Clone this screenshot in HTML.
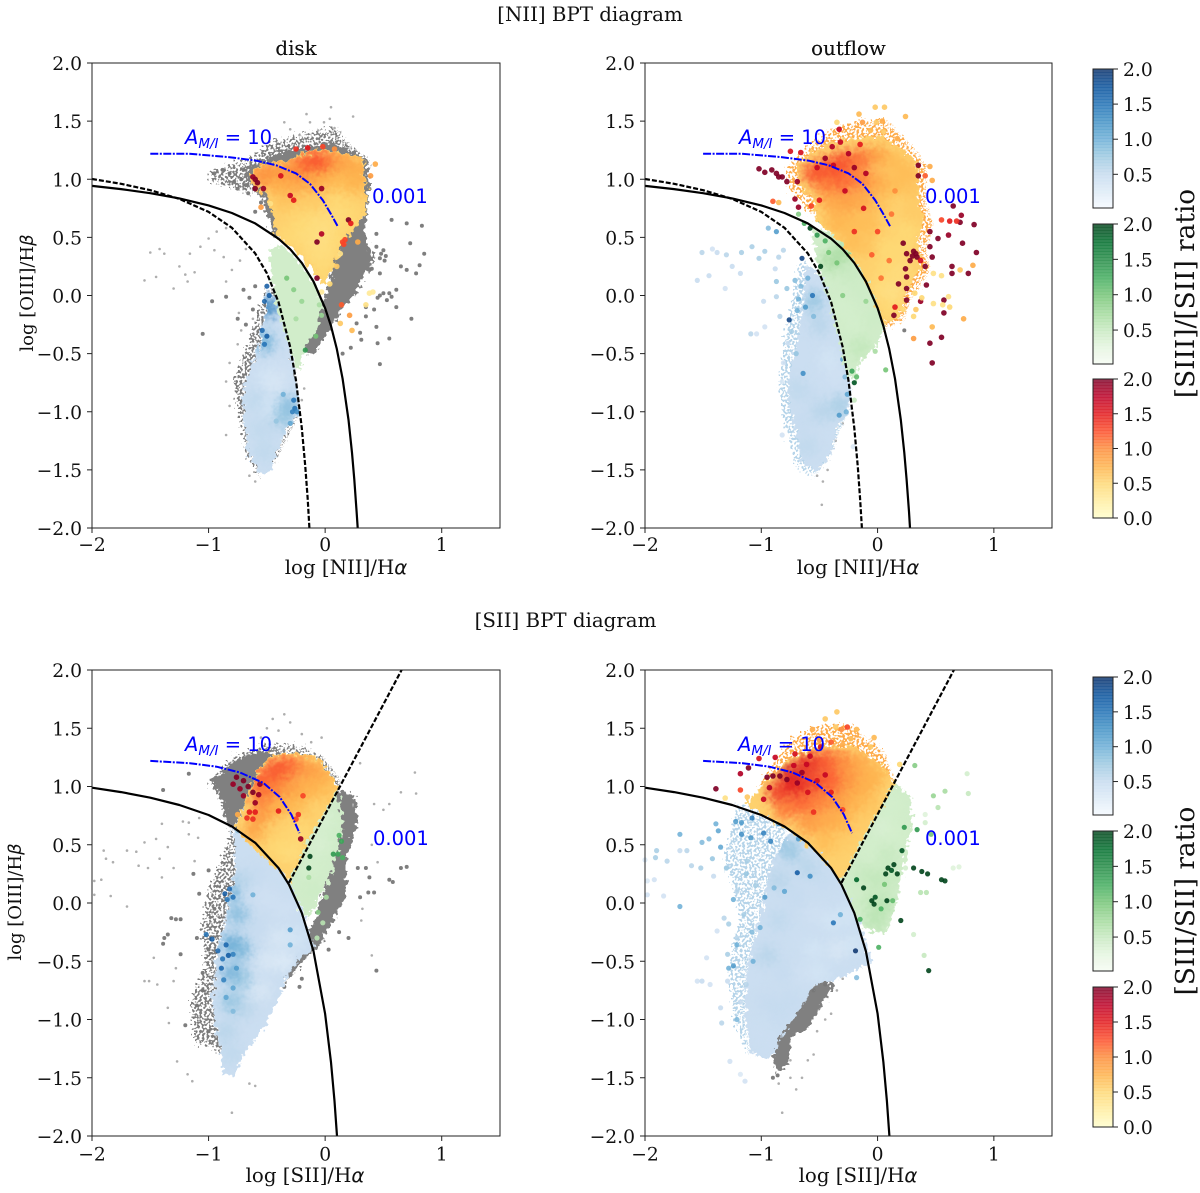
<!DOCTYPE html>
<html><head><meta charset="utf-8"><title>BPT diagrams</title>
<style>
html,body{margin:0;padding:0;background:#fff}
svg{display:block}
text{font-family:"DejaVu Serif","Liberation Serif",serif;fill:#111}
.m{font-family:"DejaVu Sans","Liberation Sans",sans-serif}
</style></head><body>
<svg id="fig" xmlns="http://www.w3.org/2000/svg" width="1200" height="1193" viewBox="0 0 1200 1193">
<defs>
<filter id="rough" filterUnits="userSpaceOnUse" x="0" y="0" width="1200" height="1193" color-interpolation-filters="sRGB">
<feTurbulence type="fractalNoise" baseFrequency="0.22" numOctaves="2" seed="4" result="n"/>
<feDisplacementMap in="SourceGraphic" in2="n" scale="12" xChannelSelector="R" yChannelSelector="G"/>
</filter>
<filter id="speckle" filterUnits="userSpaceOnUse" x="0" y="0" width="1200" height="1193" color-interpolation-filters="sRGB">
<feTurbulence type="fractalNoise" baseFrequency="0.42" numOctaves="1" seed="9" result="n"/>
<feDisplacementMap in="SourceGraphic" in2="n" scale="22" xChannelSelector="R" yChannelSelector="G" result="d"/>
<feColorMatrix in="n" type="matrix" values="0 0 0 0 0  0 0 0 0 0  0 0 0 0 0  14 0 0 0 -6.6" result="m"/>
<feComposite in="d" in2="m" operator="in"/>
</filter>
<filter id="soft" filterUnits="userSpaceOnUse" x="0" y="0" width="1200" height="1193" color-interpolation-filters="sRGB">
<feGaussianBlur stdDeviation="5.5"/>
</filter>
</defs>
</svg>
<script>
const xTicks=[-2,-1,0,1];
const yTicks=[-2,-1.5,-1,-0.5,0,0.5,1,1.5,2];
const barTicksFull=[0,0.5,1,1.5,2];
const barTicksPart=[0.5,1,1.5,2];
const blues=["#f7fbff","#deebf7","#c6dbef","#9ecae1","#6baed6","#4292c6","#2171b5","#08519c","#08306b"];
const greens=["#f7fcf5","#e5f5e0","#c7e9c0","#a1d99b","#74c476","#41ab5d","#238b45","#006d2c","#00441b"];
const ylorrd=["#ffffcc","#ffeda0","#fed976","#feb24c","#fd8d3c","#fc4e2a","#e31a1c","#bd0026","#800026"];

const kewleyCurve=[-2,.943,-1.75,.915,-1.5,.88,-1.25,.835,-1,.775,-.8,.71,-.6,.62,-.4,.489,-.3,.398,-.2,.28,-.1,.12,0,-.108,.05,-.262,.1,-.459,.15,-.716,.2,-1.069,.23,-1.352,.25,-1.583,.27,-1.86,.279,-2];
const kauffmannCurve=[-2,1.002,-1.75,.961,-1.5,.906,-1.25,.831,-1,.719,-.8,.582,-.6,.362,-.5,.191,-.4,-.056,-.3,-.443,-.25,-.733,-.2,-1.14,-.17,-1.473,-.15,-1.75,-.135,-2];
const siiCurve=[-2,.99,-1.75,.952,-1.5,.904,-1.25,.841,-1,.755,-.8,.657,-.6,.517,-.4,.3,-.31,.157,-.2,-.085,-.1,-.414,0,-.95,.05,-1.367,.08,-1.7,.102,-2];
const linerLine=[-.31,.174,.656,2];
const mixNii=[-1.5,1.22,-1.17,1.22,-.82,1.19,-.59,1.16,-.42,1.12,-.25,1.05,-.13,.96,-.02,.82,.05,.7,.11,.59];
const mixSii=[-1.5,1.22,-1.16,1.2,-.93,1.17,-.73,1.12,-.53,1.03,-.39,.91,-.29,.76,-.22,.6];

/* panel A: [NII] disk */
const aGreyHulls=[[.13,.42,.24,.56,.34,.68,.33,.5,.41,.3,.37,.25,.27,.05,.15,-.1,.01,-.33,-.1,-.5,-.22,-.47,-.1,-.27,-.03,-.1,0,-.04,.08,.25],[-.66,1.1,-.42,1.2,-.25,1.24,.04,1.3,.18,1.26,.35,1.16,.37,.93,.35,.7,-.43,.5,-.47,.6,-.53,.85,-.63,.95,-.68,1.02]];
const aPaleGreyHulls=[[-.76,-.73,-.67,-.5,-.59,-.27,-.5,.02,-.41,.05,-.25,-.67,-.22,-1.01,-.42,-1.41,-.56,-1.53,-.65,-1.36,-.73,-.96],[-.96,1.05,-.66,1.15,-.42,1.32,-.05,1.4,.1,1.42,.2,1.3,.38,1.15,.3,1,-.6,.9,-.75,.92,-.96,1]];
const aPaleBlueHulls=[];
const aPaleOrangeHulls=[];
const aBlueHull=[-.49,.05,-.43,-.04,-.33,-.36,-.27,-.67,-.23,-1.01,-.33,-1.13,-.42,-1.33,-.47,-1.5,-.56,-1.53,-.65,-1.36,-.69,-1.07,-.69,-.81,-.62,-.61,-.56,-.41,-.52,-.21];
const aGreenHull=[-.47,.4,-.37,.43,-.27,.33,-.16,.19,-.07,.05,-.03,-.1,-.07,-.27,-.16,-.41,-.23,-.64,-.26,-.56,-.33,-.33,-.42,-.04,-.46,.19];
const aOrangeHull=[-.63,1.05,-.53,1.12,-.3,1.16,-.19,1.22,-.02,1.25,.15,1.22,.31,1.18,.35,.93,.34,.73,.24,.56,.13,.42,.07,.25,-.02,.1,-.07,.19,-.19,.33,-.33,.45,-.42,.53,-.43,.68,-.5,.88,-.62,.95];
const aGreyFaint=[-1.5,.37,-1.42,.4,-1.55,.13,-1.45,.16,-1.3,.06,-1.25,.25,-1.16,.36,-1.07,.42,-1,.49,-.95,.39,-.87,.33,-.93,.55,-.85,.58,-1.2,.18,-1.12,.2,-1.38,.36,-1.18,.12,-.85,.12,-.8,.22,-.73,.3,-.68,.4,-.16,1.56,.05,1.62,.24,1.54,-.35,1.49,-.13,1.49,-.01,1.49,.04,1.52,-.06,1.42,.08,1.44,-.3,1.43,-.22,1.38,-.82,-.58,-.85,-.74,-.82,-.95,-.72,-.3,-.75,-.42,-.62,-.2,-.74,-.15,-.65,-1.55,-.6,-1.6,-.85,-1.2,-.2,-.9,-.18,-.8];
const aGreyDots=[.44,.53,.57,.65,.7,.62,.83,.6,.73,.45,.85,.36,.5,.39,.51,.3,.44,.42,.65,.25,.81,.26,.78,.19,.7,.22,.61,.05,.57,-.01,.47,0,.61,-.1,.35,-.18,.27,-.24,.44,-.27,.55,-.37,.45,-.41,.47,-.59,.31,-.38,.74,-.2,.4,.23,.47,.19,.53,-.04,.5,.02,.55,.02,.45,-.02,.42,-.12,.35,-.1,.3,-.32,.22,-.45,.15,-.5,.48,.36,.47,.32,.52,.34,-.97,-.05,-1.05,-.33,-.85,-.01,-.7,.05,-.65,-.02,-.6,.08,-.62,-.12,-.75,-.2,-.68,-.25,-.95,1.05,-.88,1.08,-.82,1.05,-.78,.98,-.72,1,-.7,1.08,-.75,.92,-.68,.95,-.66,.88,-.55,.8,-.6,.72];
const aBlueWash=[-.5,-.7,.35,-.42,-.75,.3,-.35,-.65,.4,-.6,-.9,.55,-.45,-.95,.35,-.32,-.95,.9,-.55,-1.15,.55,-.45,-1.15,.5,-.35,-1.05,.8,-.52,-1.35,.55,-.52,-.4,1,-.49,-.1,1.4];
const aBlueDots=[-.5,.08,1.7,-.48,0,1.7,-.52,-.05,1.6,-.54,-.3,1.6,-.52,-.42,1.5,-.5,-.35,1.7,-.27,-.9,1.5,-.26,-.97,1.5,-.28,-1,1.4,-.24,-1,1.3,-.3,-1.1,1.1,-.36,-.85,1,-.42,-1.08,.8];
const aGreenWash=[];
const aGreenDots=[-.33,.15,1,-.27,.05,.9,-.2,-.05,.8,-.03,-.17,.8,-.08,-.35,1,-.17,-.47,1.4,-.05,-.08,.7,-.25,-.2,.7];
const aOrangeWash=[-.1,1.15,1.3,0,1.15,1.25,-.2,1.12,1.2,.1,1.15,.95,.2,1.12,.85,.3,1.08,.8,-.3,1.08,1,-.45,1.05,1,-.55,1.03,1,-.4,.95,.8,-.25,.95,.85,-.1,1,.9,0,1,.8,.15,.98,.7,.28,.95,.75,-.35,.8,.65,-.2,.8,.6,-.05,.8,.6,.1,.8,.5,.25,.8,.55,-.35,.65,.55,-.2,.65,.5,-.05,.65,.45,.1,.65,.45,.22,.68,.5,-.3,.5,.5,-.15,.5,.45,0,.5,.4,.12,.5,.5,-.1,.35,.45,.03,.35,.45,-.02,.2,.5];
const aOrangeDots=[-.6,1,2,-.6,.92,2,-.53,.92,1.9,-.62,1.02,1.9,-.58,.97,2,-.38,1.03,1.6,-.03,.92,1.9,-.3,.86,1.7,-.27,.82,1.5,.2,.65,2,.22,.62,1.5,-.03,.53,1.8,-.07,.46,2,.15,.46,1.3,.17,.48,1.3,.16,.44,1.3,-.07,.15,2,-.55,.76,.9,-.47,.79,.4,.14,-.08,1.2,.21,-.17,.9,.23,-.3,.7,.13,-.24,.6,.35,-.08,.4,.41,.03,.3,.38,.02,.3,.43,1.13,.8,.39,1.03,.9,.28,.46,.8,.1,.25,.6,.13,.36,.4,.04,.1,.5,-.03,.03,.3,-.25,1.26,1.4,-.15,1.27,1.5,-.02,1.28,1.3,.08,1.26,1];

/* panel B: [NII] outflow */
const bGreyHulls=[[-.49,-.93,-.35,-1.1,-.41,-1.36,-.52,-1.5,-.59,-1.42,-.54,-1.13]];
const bPaleGreyHulls=[];
const bPaleBlueHulls=[[-.64,.3,-.45,.1,-.3,-.4,-.22,-.85,-.3,-1.1,-.42,-1.4,-.55,-1.55,-.68,-1.45,-.78,-1.1,-.82,-.75,-.78,-.4,-.72,-.1]];
const bPaleOrangeHulls=[[-.75,1.1,-.45,1.38,-.18,1.48,.08,1.5,.25,1.32,.42,1.12,.42,.8,.48,.6,.42,.4,.45,.2,.3,0,.22,-.22,.05,-.28,.3,.6,-.55,.7,-.75,.95]];
const bBlueHull=[-.61,.25,-.49,.16,-.38,-.15,-.29,-.5,-.23,-.84,-.26,-1.01,-.35,-1.1,-.41,-1.36,-.52,-1.5,-.64,-1.42,-.69,-1.19,-.75,-.96,-.76,-.7,-.69,-.41,-.64,-.13];
const bGreenHull=[-.56,.59,-.35,.5,-.18,.3,-.03,.02,.05,-.27,0,-.41,-.15,-.56,-.21,-.73,-.26,-.64,-.35,-.3,-.44,.07,-.52,.3];
const bOrangeHull=[-.69,1.13,-.43,1.3,-.18,1.35,.02,1.37,.19,1.26,.34,1.14,.35,.82,.39,.65,.34,.48,.37,.25,.25,.07,.19,-.16,.05,-.24,-.03,.02,-.18,.3,-.35,.5,-.52,.65,-.55,.85,-.69,.96];
const bGreyFaint=[-.52,-1.55,-.47,-1.6,-.48,-1.8,-.43,-1.5,-.36,-1.25,-.3,-1.1,.24,1.1,.3,1.15,.33,.95,.33,.75,-.4,-.55,-.42,-.4,-.45,-.2];
const bGreyDots=[-.3,-1.05,-.45,-1,-.4,-.95,.23,-.3];
const bBlueWash=[-.5,-.75,.45,-.42,-.55,.35,-.35,-.7,.4,-.6,-.85,.5,-.5,-.25,.6,-.55,-.05,.8,-.65,-1.1,.5,-.6,-1.3,.55,-.48,-1.0,.6,-.32,-.95,.7,-.7,-.8,.55];
const bBlueDots=[-1.51,.37,.6,-1.42,.4,.4,-1.55,.13,.5,-1.45,.17,.5,-1.31,.06,.4,-1.38,.37,.5,-1.3,.35,.6,-1.25,.25,.5,-1.17,.37,.7,-1.18,.19,.5,-1.08,.42,.7,-1.02,.32,.7,-.94,.58,.9,-.87,.55,1.2,-.97,.38,.7,-.85,.33,.6,-.81,.39,.6,-.88,.23,.5,-.87,.12,.8,-.98,-.05,.5,-.87,-.01,.6,-1.04,-.33,.4,-1.09,-.33,.6,-.97,-.27,.4,-.76,-.21,1.9,-.84,-.18,.6,-.71,.13,.9,-.65,.32,1.9,-.56,0,1.5,-.78,.06,.8,-.69,-.13,1,-.62,-.1,1.2,-.74,-.31,.7,-.77,-.41,.5,-.64,-.67,1.3,-.81,-.58,.4,-.82,-.74,.3,-.82,-1.2,.4,-.21,-1.3,.3,-.6,.15,1,-.66,.08,.9,-.68,-.03,1,-.55,-.18,.9,-.7,-.5,.8,-.3,-.55,1.1,-.26,-.85,1.1,-.27,-1,1,-.33,-1.03,1.2,-.28,-.7,.9];
const bGreenWash=[-.25,.2,.5,-.15,.05,.45,-.3,-.1,.4,-.2,-.25,.4,-.05,-.2,.45,-.15,-.45,.55,-.4,.3,.7,-.28,.38,.7];
const bGreenDots=[-.58,.58,2,-.63,.62,1.2,-.5,.65,1.5,-.52,.52,1.4,-.45,.47,1.2,-.68,.7,.9,-.42,.37,1,-.49,.25,2,-.35,.28,1,-.25,.35,.9,-.1,-.05,.8,-.3,0,.9,-.22,-.65,1.3,-.18,-.7,1.1,-.2,-.75,1.9,.07,-.64,1,-.02,-.48,.7,-.2,-.9,.5];
const bOrangeWash=[-.55,1.05,1.3,-.42,1.1,1.3,-.3,1.15,1.3,-.15,1.18,1.15,0,1.2,.9,.15,1.15,.7,.28,1.05,.7,-.45,.95,1.1,-.3,.98,1.2,-.15,1.0,1.1,0,.98,.85,.15,.95,.7,.28,.9,.65,-.4,.8,.85,-.25,.8,.9,-.1,.82,.85,.05,.8,.65,.2,.78,.55,.3,.7,.6,-.35,.62,.75,-.2,.62,.7,-.05,.62,.7,.1,.62,.55,.25,.55,.5,-.22,.45,.7,-.08,.42,.65,.07,.4,.5,.22,.38,.5,-.05,.25,.55,.08,.22,.5,.2,.2,.45,.02,.05,.45,.14,.02,.4,.1,-.12,.5];
const bOrangeDots=[-1.02,1.09,2,-.97,1.06,2,-.91,1.08,2,-.87,1.05,2,-.82,1.02,2,-.78,.98,2,-.69,.98,1.9,-.85,1.02,2,-.75,1.24,1.6,-.66,1.23,1.6,-.39,1.28,1.8,-.32,1.32,1.7,-.71,.83,1.9,-.68,.76,1.9,.45,.55,2,.52,.49,2,.61,.52,1.9,.72,.69,1.9,.71,.63,2,.83,.61,2,.73,.45,2,.85,.37,2,.78,.19,2,.64,.19,2,.64,.25,2,.45,.42,2,.47,.33,2,.31,.38,2,.25,.36,2,.22,.45,2,.28,.3,2,.34,.33,2,.41,.25,2,.24,.23,2,.42,.09,2,.25,.06,2,.37,-.05,1.9,.14,-.17,2,.25,-.04,2,.57,-.15,2,.57,-.04,2,.55,-.36,2,.45,-.41,2,.47,-.58,2,.25,.16,2,.33,.36,2,.3,.34,2,.37,.3,1.6,.48,-.07,.4,.56,-.08,.4,.62,-.1,.5,.61,-.01,.4,.31,-.18,.5,.47,-.27,.7,.74,-.2,.8,.31,-.37,.9,.48,.19,.4,.55,.17,.4,.71,.22,.6,.82,.26,.8,-.16,1.56,.7,-.02,1.62,.6,.06,1.62,.6,.24,1.54,.7,-.35,1.49,.5,-.13,1.49,.9,-.01,1.49,.6,.04,1.5,.8,-.06,1.42,.7,.05,1.41,.6,.17,1.35,.8,-.33,1.43,1.7,.45,1.11,.8,.35,1.12,2,.35,1.03,2,.41,1.03,1.2,.47,.99,.8,.65,.77,2,.55,.65,1.3,.62,.64,1.5,.68,.64,1.4,-.9,.81,1.2,-.85,.8,.7,-.5,.82,1.5,-.57,.77,1.3,-.2,1.1,1.9,-.1,1.05,1.8,-.28,.9,1.7,-.12,.75,1.6,-.2,.55,1.4,0,.55,1.3,.12,.7,1.1,-.05,.35,1.2,.1,.3,1.1,.03,.15,1.1,.15,.9,1,-.45,1.18,1.9,-.38,1.12,1.7,-.25,1.22,1.8,-.15,1.3,1.5,-.52,1.1,1.7,.18,.1,2,.15,-.1,1.5,.32,.02,.5,.38,-.02,.5,.33,-.12,.6,.22,-.12,.5];

/* panel C: [SII] disk */
const cGreyHulls=[[.1,.96,.24,.93,.27,.68,.18,.42,.18,.08,.04,-.18,-.07,-.38,-.24,-.55,-.33,-.67,-.3,-.35,-.1,-.2,.03,.2,.1,.5],[-.79,.65,-.6,1.1,-.47,1.27,-.55,1.3,-.76,1.22,-.96,1.05,-.87,.88,-.82,.65]];
const cPaleGreyHulls=[[-.96,1.05,-.76,1.25,-.47,1.35,-.24,1.34,-.02,1.25,.13,1.05,.1,.9,-.76,.6],[-.76,.65,-.85,.42,-.96,.16,-1.04,-.21,-1,-.56,-1.13,-.84,-1.1,-1.18,-.93,-1.24,-.79,-1.4,-.6,-.9,-.6,.2]];
const cPaleBlueHulls=[];
const cPaleOrangeHulls=[];
const cBlueHull=[-.79,.62,-.67,.53,-.47,.36,-.3,.16,-.16,-.21,-.1,-.36,-.19,-.44,-.33,-.61,-.39,-.78,-.53,-1.07,-.67,-1.24,-.79,-1.47,-.87,-1.47,-.9,-1.22,-.96,-.84,-.93,-.5,-.82,.02,-.76,.3];
const cGreenHull=[.1,.96,.14,.73,.11,.48,.04,.25,-.07,.02,-.16,-.13,-.3,.19,-.19,.48,-.05,.73];
const cOrangeHull=[-.76,.65,-.59,1.11,-.47,1.26,-.25,1.28,-.07,1.24,.04,1.11,.1,.98,-.05,.73,-.19,.48,-.3,.2,-.47,.36,-.67,.53];
const cGreyFaint=[-1.9,.45,-1.88,.38,-1.82,.35,-1.7,.45,-1.62,.44,-1.6,.32,-1.55,.52,-1.45,.55,-1.4,.68,-1.35,.48,-1.42,.38,-1.52,.3,-1.4,.22,-1.3,.3,-1.22,.7,-1.17,.69,-1.08,.73,-1.17,.59,-1.09,.56,-1.12,.36,-1.98,.19,-1.92,.2,-1.84,.06,-1.98,.07,-1.7,-.03,-1.55,-.67,-1.51,-.67,-1.44,-.7,-1.47,-.47,-1.35,-.9,-1.34,-1.03,-1.27,-1.36,-1.18,-1.47,-1.14,-1.53,-1.3,-.67,-1.28,-.56,-.45,1.58,-.35,1.62,-.3,1.55,-.2,1.45,-.5,1.5,-.4,1.48,-.55,1.42,-.12,1.38,-.03,1.42,.3,1.2,.42,.85,.5,.8,.55,.85,.65,.95,.77,1.12,.78,.94,.4,.5,.45,.35,-.65,-1.55,-.6,-1.57,-.8,-1.8,.4,-.45,.31,-.15,.32,-.05];
const cGreyDots=[-1.17,1.11,-1.39,.97,-1.32,-.13,-1.28,-.14,-1.24,-.14,-1.35,-.27,-1.38,-.3,-1.39,-.35,-1.24,-.44,-1.1,-.3,-1.05,-.6,-1.0,-.4,-.95,-.05,-1.13,.25,-1.08,.08,-1,.28,.28,.3,.35,.3,.38,.22,.55,.2,.58,.18,.65,.3,.7,.31,.37,.09,.42,.09,.3,.05,.2,-.3,.12,-.25,.03,-.4,-.2,-.65,-.22,-.72,.44,-.58,-1.05,-.75,-.95,-.95,-1.2,-1.05,-1,-1.1,-1.1,-.88,-.35,-.72];
const cBlueWash=[-.82,.1,1,-.72,.2,.6,-.75,-.1,.9,-.8,-.35,1.1,-.72,-.4,.95,-.8,-.6,1.05,-.72,-.65,.8,-.8,-.85,.85,-.7,-.9,.6,-.85,-1.1,.6,-.8,-1.3,.55,-.6,.25,.5,-.5,.05,.4,-.35,-.05,.4,-.6,-.2,.5,-.4,-.3,.3,-.25,-.3,.35,-.5,-.5,.3,-.35,-.5,.25,-.55,-.75,.3];
const cBlueDots=[-.82,.12,1.6,-.79,.05,1.5,-1.02,-.27,1.5,-.97,-.31,1.7,-.92,-.41,1.6,-.85,-.36,1.6,-.89,-.56,1.6,-.79,-.44,1.4,-.87,-.66,1.4,-.76,-.56,1.2,-.79,-.73,1.1,-.85,-.81,1.1,-.79,-.93,.9,-.62,.07,1,-.3,-.23,1.2,-.3,-.36,1,-.86,.08,1.7,-.83,-.45,1.7,-.88,-.48,1.5,-.84,.03,1.5,-.75,.62,.8];
const cGreenWash=[-.02,.72,.35,-.05,.5,.35,-.12,.3,.4,-.1,.1,.45];
const cGreenDots=[-.13,.4,2,-.14,.3,2,.14,.53,1.3,.11,.42,1.3,.15,.39,1.2,.07,.42,1.4,-.06,-.08,.9,.01,.05,.7,-.02,-.17,.6,-.07,-.3,.6,.12,.58,1.2,-.14,.22,.7];
const cOrangeWash=[-.55,1.05,1.25,-.42,1.15,1.3,-.3,1.18,1.2,-.15,1.15,.95,-.02,1.1,.85,-.55,.9,1.1,-.42,1,1.1,-.3,1,.95,-.15,.98,.8,0,.98,.7,-.55,.72,1,-.42,.82,.8,-.28,.85,.75,-.15,.82,.65,-.05,.8,.55,-.6,.62,.9,-.48,.62,.6,-.35,.65,.55,-.2,.6,.5,-.4,.48,.5,-.27,.42,.45];
const cOrangeDots=[-.79,1.02,1.9,-.7,1.05,2,-.73,.98,1.9,-.62,.95,2,-.56,1.02,1.9,-.6,.86,1.9,-.7,.92,1.9,-.65,.78,1.5,-.67,.73,1.4,-.75,.76,.8,-.19,.92,1.3,-.23,.76,1.4,-.4,.79,1.5,-.21,.55,1.9,-.76,1.08,2,-.66,1,2,-.57,.93,1.9,-.62,.72,1.4,-.6,.78,1.5,-.25,.72,1.3];

/* panel D: [SII] outflow */
const dGreyHulls=[[-.44,-.64,-.55,-.73,-.69,-.96,-.84,-1.12,-.89,-1.27,-.87,-1.44,-.78,-1.38,-.75,-1.15,-.61,-1.07,-.49,-.87,-.39,-.73]];
const dPaleGreyHulls=[];
const dPaleBlueHulls=[[-1.18,.82,-.75,.7,-.9,.3,-1,-.1,-1.12,-.6,-1.13,-1,-1.1,-1.27,-1.22,-1,-1.25,-.5,-1.15,-.1,-1.3,.4]];
const dPaleOrangeHulls=[[-1,1,-.75,1.38,-.45,1.52,-.2,1.5,.05,1.3,.15,1.05,-.5,.9]];
const dBlueHull=[-.75,.62,-.49,.42,-.29,.19,-.15,-.21,-.06,-.5,-.32,-.64,-.55,-.7,-.66,-.9,-.83,-1.12,-.89,-1.27,-.95,-1.33,-1.09,-1.27,-1.13,-.99,-1.12,-.56,-1.0,-.13,-.92,.3];
const dGreenHull=[.15,1.02,.28,.9,.28,.62,.22,.36,.17,.07,.08,-.24,-.06,-.24,-.15,-.16,-.31,.19,-.18,.48,-.03,.73];
const dOrangeHull=[-1.12,.85,-.95,1.05,-.75,1.25,-.49,1.34,-.21,1.34,.02,1.19,.14,1.03,-.03,.73,-.18,.48,-.31,.2,-.49,.42,-.75,.62,-.92,.73];
const dGreyFaint=[-.75,-1.5,-.7,-1.6,-.85,-1.55,-.65,-1.5,-.6,-1.35,-.55,-1.3,-.52,-1.1,-.45,-1,-.4,-.95,-.35,-.75,-.3,-.65,-.82,-1.8,-.75,-1.35];
const dGreyDots=[-.3,-.05,-.33,-.15,-.45,-.7,-.55,-.75,-.9,-1.5,-.86,-1.48];
const dBlueWash=[-.9,.55,1,-.75,.45,.8,-.6,.3,.6,-.45,.2,.5,-.85,.2,.6,-.7,.05,.5,-.55,-.1,.4,-.4,-.15,.35,-.25,-.1,.35,-.85,-.15,.55,-.7,-.3,.45,-.55,-.4,.35,-.35,-.4,.3,-.2,-.35,.35,-.95,-.45,.6,-.8,-.6,.5,-.65,-.6,.4,-.5,-.6,.35,-.95,-.85,.5,-.85,-.95,.5,-.75,-.85,.5,-1.02,-1.1,.45,-.92,-1.22,.45];
const dBlueDots=[-1.7,.59,1,-1.7,-.03,1,-1.9,.45,.7,-1.91,.39,.7,-1.81,.36,.6,-2,.37,.3,-1.98,.19,.3,-1.92,.2,.4,-1.84,.06,.4,-1.98,.07,.4,-1.7,.45,.5,-1.64,.45,.6,-1.6,.32,.6,-1.51,.52,.9,-1.45,.55,.9,-1.39,.68,1,-1.37,.62,1.1,-1.35,.48,1.1,-1.42,.38,.8,-1.52,.3,.7,-1.41,.23,.5,-1.3,.3,.8,-1.22,.7,1.2,-1.17,.69,1.2,-1.08,.73,1.4,-.98,.6,1.4,-.92,.53,1.4,-1.17,.59,1.3,-1.09,.56,1.2,-1.12,.36,.7,-1.21,.1,.6,-1.24,.03,1,-1.32,-.13,.6,-1.28,-.18,.7,-1.38,-.24,.4,-1.21,-.3,.6,-1.21,-.36,1,-1.29,-.44,.7,-1.28,-.56,1,-1.24,-.54,1.2,-1.47,-.47,.4,-1.55,-.67,.4,-1.51,-.67,.5,-1.44,-.7,.4,-1.29,-.67,.5,-1.35,-.9,.5,-1.21,-1,.9,-1.34,-1.03,.6,-1.27,-1.36,.4,-1.18,-1.47,.3,-1.14,-1.53,.4,-1.07,-.5,1,-1.01,-.21,1,-.89,.13,.9,-.38,-.17,1.5,-.19,-.41,2,-.18,-.64,.9,-.69,.26,1.7,-.58,.23,1.3,-.32,-.1,1,-1.13,.25,.8,-1.05,.15,.7,-1.15,-.1,.7,-1.08,-.25,.9,-1.13,-.7,.6,-1.18,-.85,.5,-.75,.72,1.4,-.85,.68,1.3,-.68,.55,1.2,-.8,.1,1.1,-.97,.05,1.2];
const dGreenWash=[.12,.85,.4,.05,.65,.35,.15,.6,.4,-.05,.45,.4,.08,.4,.5,-.12,.25,.5,0,.2,.55,.12,.2,.5,-.05,0,.55,.06,-.02,.6,-.02,-.15,.6];
const dGreenDots=[.09,.3,2,.14,.33,2,.07,.25,2,.17,.25,2,.21,.45,1.9,.31,.3,2,.38,.27,2,.43,.25,2,.55,.2,2,.58,.19,2,-.03,-.01,2,-.05,.02,2,.08,.02,2,-.12,.13,2,-.18,.2,1.8,.2,-.15,2,.44,-.58,2,.23,.65,1.4,.34,.63,1.4,.46,.59,1,.01,-.38,1.2,-.15,-.14,1.2,.32,1.18,.9,.48,.92,.8,.58,.96,.7,.77,1.11,.4,.78,.94,.5,.52,.82,.6,.41,.69,.4,.41,.76,.3,.4,-.45,.5,.65,.3,.3,.7,.31,.3,.37,.09,.6,.42,.09,.6,.31,-.27,.4,.24,.3,.4,.12,.28,1.9,-.02,.05,1.9,.03,-.05,1.2,.06,.16,1,.13,.02,1.1];
const dOrangeWash=[-.75,1.1,1.6,-.6,1.2,1.5,-.45,1.22,1.3,-.3,1.22,1.05,-.15,1.2,.85,-.02,1.1,.75,-.85,.95,1.4,-.7,1,1.5,-.55,1.03,1.4,-.4,1.05,1.25,-.25,1.05,1,-.1,1,.8,-.8,.8,1.1,-.65,.85,1.2,-.5,.87,1.1,-.35,.88,1,-.2,.87,.8,-.05,.85,.65,-.6,.68,.95,-.45,.7,.85,-.3,.7,.8,-.15,.7,.6,-.45,.52,.7,-.3,.5,.6,-.22,.38,.55];
const dOrangeDots=[-1.39,.98,2,-1.18,1.11,1.8,-1.11,1.16,2,-1.02,1.24,1.6,-.88,1.25,1.7,-.95,1.08,2,-.9,1.09,2,-.84,1.09,2,-.78,1.06,2,-.69,1.03,1.9,-.93,.99,1.8,-.98,.89,1.7,-.71,1.28,1.6,-.58,1.26,1.7,-.49,1.34,1.6,-.61,1.19,1.7,-.52,1.05,1.6,-.35,1.64,.6,-.45,1.58,.6,-.26,1.51,1.3,-.31,1.49,1,-.36,1.51,.6,-.18,1.49,.7,-.56,1.49,.8,-.03,1.42,.7,-.23,1.41,.7,-.06,1.34,.6,-1.31,.9,.4,-1.12,.91,.6,-1.18,.97,1.3,.19,1.19,.5,-.65,1.12,1.9,-.72,1.18,1.7,-.45,1.1,1.7,-.6,.95,1.6,-.4,.95,1.5,-.55,.78,1.4,-.3,.8,1.3,-.5,1.4,.9,-.4,1.38,1.2,-.3,1.36,.8];

const panels=[
 {id:'nii-disk',left:92,top:63,w:408,h:465,grey:aGreyHulls,pale:aPaleGreyHulls,paleBlue:aPaleBlueHulls,paleOrange:aPaleOrangeHulls,blue:aBlueHull,green:aGreenHull,orange:aOrangeHull,faint:aGreyFaint,dots:aGreyDots,bw:aBlueWash,bd:aBlueDots,gw:aGreenWash,gd:aGreenDots,ow:aOrangeWash,od:aOrangeDots,curves:[[kewleyCurve,0],[kauffmannCurve,1]],mix:mixNii,title:'disk',xl:'[NII]',xlc:346,ylx:33,lx:185,ly:144,nx:372,ny:203},
 {id:'nii-outflow',left:645,top:63,w:407,h:465,grey:bGreyHulls,pale:bPaleGreyHulls,paleBlue:bPaleBlueHulls,paleOrange:bPaleOrangeHulls,blue:bBlueHull,green:bGreenHull,orange:bOrangeHull,faint:bGreyFaint,dots:bGreyDots,bw:bBlueWash,bd:bBlueDots,gw:bGreenWash,gd:bGreenDots,ow:bOrangeWash,od:bOrangeDots,curves:[[kewleyCurve,0],[kauffmannCurve,1]],mix:mixNii,title:'outflow',xl:'[NII]',xlc:858,ylx:0,lx:739,ly:144,nx:925,ny:203},
 {id:'sii-disk',left:92,top:670,w:408,h:466,grey:cGreyHulls,pale:cPaleGreyHulls,paleBlue:cPaleBlueHulls,paleOrange:cPaleOrangeHulls,blue:cBlueHull,green:cGreenHull,orange:cOrangeHull,faint:cGreyFaint,dots:cGreyDots,bw:cBlueWash,bd:cBlueDots,gw:cGreenWash,gd:cGreenDots,ow:cOrangeWash,od:cOrangeDots,curves:[[siiCurve,0],[linerLine,1]],mix:mixSii,title:'disk',xl:'[SII]',xlc:305,ylx:21,lx:185,ly:751,nx:373,ny:845},
 {id:'sii-outflow',left:645,top:670,w:407,h:466,grey:dGreyHulls,pale:dPaleGreyHulls,paleBlue:dPaleBlueHulls,paleOrange:dPaleOrangeHulls,blue:dBlueHull,green:dGreenHull,orange:dOrangeHull,faint:dGreyFaint,dots:dGreyDots,bw:dBlueWash,bd:dBlueDots,gw:dGreenWash,gd:dGreenDots,ow:dOrangeWash,od:dOrangeDots,curves:[[siiCurve,0],[linerLine,1]],mix:mixSii,title:'outflow',xl:'[SII]',xlc:858,ylx:0,lx:738,ly:751,nx:925,ny:845}
];
const colorbars=[
 {top:69,h:139,stops:blues,lo:0.02,ticks:barTicksPart,name:'blue-colorbar-top'},
 {top:224,h:140,stops:greens,lo:0.02,ticks:barTicksPart,name:'green-colorbar-top'},
 {top:379,h:139,stops:ylorrd,lo:0,ticks:barTicksFull,name:'red-colorbar-top'},
 {top:677,h:138,stops:blues,lo:0.02,ticks:barTicksPart,name:'blue-colorbar-bottom'},
 {top:831,h:140,stops:greens,lo:0.02,ticks:barTicksPart,name:'green-colorbar-bottom'},
 {top:987,h:140,stops:ylorrd,lo:0,ticks:barTicksFull,name:'red-colorbar-bottom'}
];

const NS='http://www.w3.org/2000/svg';
const fig=document.getElementById('fig');
function make(tag,attrs,parent,txt){
  const el=document.createElementNS(NS,tag);
  for(const k in attrs)el.setAttribute(k,attrs[k]);
  if(txt!==undefined)el.textContent=txt;
  (parent||fig).appendChild(el);
  return el;
}
function label(txt,x,y,size,name,extra){
  const el=make('text',Object.assign({x:x,y:y,'font-size':size},extra||{}),fig,txt);
  
  
  return el;
}
function cmap(stops,v){
  const t=Math.max(0,Math.min(1,v/2))*(stops.length-1);
  const i=Math.min(stops.length-2,Math.floor(t)),f=t-i;
  const a=stops[i],b=stops[i+1];
  let out='rgb(';
  for(let c=0;c<3;c++){
    const p=parseInt(a.substr(1+c*2,2),16),q=parseInt(b.substr(1+c*2,2),16);
    out+=Math.round(p+(q-p)*f)+(c<2?',':')');
  }
  return out;
}
function fmt(n){return (n<0?'\u2212':'')+Math.abs(n);}
function fmt1(n){return (n<0?'\u2212':'')+Math.abs(n).toFixed(1);}
const defs=fig.querySelector('defs');
let clipCount=0;

panels.forEach(function(p){
  const g=make('g',{});
  
  
  const sx=function(x){return p.left+(x+2)/3.5*p.w;};
  const sy=function(y){return p.top+(2-y)/4*p.h;};
  function pts(arr){
    let s='';
    for(let i=0;i<arr.length;i+=2)s+=sx(arr[i]).toFixed(1)+','+sy(arr[i+1]).toFixed(1)+' ';
    return s;
  }
  function poly(arr,fill,name,parent,filter){
    const at={points:pts(arr),fill:fill,stroke:fill,'stroke-width':2,'stroke-linejoin':'round'};
    if(filter)at.filter='url(#'+filter+')';
    const el=make('polygon',at,parent);
    
    
  }
  function xy(arr,r,fill,op,name){
    for(let i=0;i<arr.length;i+=2){
      const el=make('circle',{cx:sx(arr[i]).toFixed(1),cy:sy(arr[i+1]).toFixed(1),r:r,fill:fill,opacity:op},g);
      
      
    }
  }
  function xyv(arr,r,stops,op,name,parent){
    for(let i=0;i<arr.length;i+=3){
      const el=make('circle',{cx:sx(arr[i]).toFixed(1),cy:sy(arr[i+1]).toFixed(1),r:r,fill:cmap(stops,arr[i+2]),opacity:op},parent||g);
      
      
    }
  }
  function population(hull,base,wash,stops,wr,name){
    const outer=make('g',{filter:'url(#rough)'},g);
    
    
    poly(hull,base,name+'-envelope',outer);
    clipCount++;
    const cid='clip'+clipCount;
    const cp=make('clipPath',{id:cid},defs);
    make('polygon',{points:pts(hull)},cp);
    const clipG=make('g',{'clip-path':'url(#'+cid+')'},outer);
    const blur=make('g',{filter:'url(#soft)'},clipG);
    xyv(wash,wr,stops,.85,name+'-density',blur);
  }
  p.pale.forEach(function(h){poly(h,'#7d7d7d','grey-sparse-envelope',g,'speckle');});
  p.grey.forEach(function(h){poly(h,'#808080','grey-density-envelope',g,'rough');});
  xy(p.faint,1.3,'#9a9a9a',.8,'grey-faint-point');
  xy(p.dots,2,'#777',.95,'grey-point');
  p.paleBlue.forEach(function(h){poly(h,cmap(blues,.6),'star-forming-sparse-envelope',g,'speckle');});
  p.paleOrange.forEach(function(h){poly(h,cmap(ylorrd,.8),'agn-sparse-envelope',g,'speckle');});
  population(p.blue,cmap(blues,.45),p.bw,blues,10,'star-forming');
  xyv(p.bd,2.6,blues,.85,'star-forming-point');
  population(p.green,cmap(greens,.42),p.gw,greens,10,'composite');
  xyv(p.gd,2.6,greens,.9,'composite-point');
  population(p.orange,cmap(ylorrd,.55),p.ow,ylorrd,11,'agn');
  xyv(p.od,2.8,ylorrd,.92,'agn-point');
  p.curves.forEach(function(c){
    let d='';
    for(let i=0;i<c[0].length;i+=2)d+=(i?'L':'M')+sx(c[0][i]).toFixed(1)+' '+sy(c[0][i+1]).toFixed(1);
    const el=make('path',{d:d,fill:'none',stroke:'#000','stroke-width':2.2,'stroke-dasharray':c[1]?'5 2':'none','stroke-linejoin':'round'},g);
    
    
  });
  let md='';
  for(let i=0;i<p.mix.length;i+=2)md+=(i?'L':'M')+sx(p.mix[i]).toFixed(1)+' '+sy(p.mix[i+1]).toFixed(1);
  const mixEl=make('path',{d:md,fill:'none',stroke:'#0000ff','stroke-width':2,'stroke-dasharray':'8 1.5 2 1.5'},g);
  
  
  const frame=make('rect',{x:p.left,y:p.top,width:p.w,height:p.h,fill:'none',stroke:'#222','stroke-width':1},g);
  
  
  const xBase=p.top<100?551:1160.5;
  xTicks.forEach(function(t){
    const tick=make('line',{x1:sx(t),x2:sx(t),y1:p.top+p.h,y2:p.top+p.h+5,stroke:'#222','stroke-width':1},g);
    
    
    label(fmt(t),sx(t),xBase,18.7,'x-tick-label',{'text-anchor':'middle'});
  });
  yTicks.forEach(function(t){
    const tick=make('line',{x1:p.left-5,x2:p.left,y1:sy(t),y2:sy(t),stroke:'#222','stroke-width':1},g);
    
    
    label(fmt1(t),p.left-10,sy(t)+7,18.7,'y-tick-label',{'text-anchor':'end'});
  });
  label(p.title,p.left+p.w/2,55,19.8,'panel-title',{'text-anchor':'middle'});
  const xl=make('text',{x:p.xlc,y:p.top+p.h+46,'font-size':19.8,'text-anchor':'middle'},fig);
  
  
  make('tspan',{},xl,'log '+p.xl+'/H');
  make('tspan',{class:'m','font-style':'italic'},xl,'\u03b1');
  if(p.ylx){
    const cy=p.top<100?293:902;
    const yl=make('text',{x:p.ylx,y:cy,'font-size':18,'text-anchor':'middle',transform:'rotate(-90 '+p.ylx+' '+cy+')'},fig);
    
    
    make('tspan',{},yl,'log [OIII]/H');
    make('tspan',{class:'m','font-style':'italic'},yl,'\u03b2');
  }
  const am=make('text',{x:p.lx,y:p.ly,'font-size':19.5,class:'m',style:'fill:#0000ff'},fig);
  
  
  make('tspan',{'font-style':'italic',style:'fill:#0000ff'},am,'A');
  make('tspan',{'font-style':'italic','font-size':13.5,dy:4,style:'fill:#0000ff'},am,'M/I');
  make('tspan',{dy:-4,style:'fill:#0000ff'},am,' = 10');
  const nl=make('text',{x:p.nx,y:p.ny,'font-size':19.5,class:'m',style:'fill:#0000ff'},fig,'0.001');
  
  
});

colorbars.forEach(function(b){
  const g=make('g',{});
  
  
  const steps=46;
  for(let i=0;i<steps;i++){
    const v=b.lo+(2-b.lo)*(i+.5)/steps;
    const h=b.h/steps;
    const y=b.top+b.h-(i+1)*h;
    const c=make('rect',{x:1093,y:y.toFixed(2),width:20,height:(h+.4).toFixed(2),fill:cmap(b.stops,v),opacity:.82},g);
    
    
  }
  const fr=make('rect',{x:1093,y:b.top,width:20,height:b.h,fill:'none',stroke:'#222','stroke-width':1},g);
  
  
  b.ticks.forEach(function(t){
    const y=b.top+b.h-(t-b.lo)/(2-b.lo)*b.h;
    const tk=make('line',{x1:1113,x2:1118,y1:y,y2:y,stroke:'#222','stroke-width':1},g);
    
    
    label(t.toFixed(1),1123,y+7,18.7,'colorbar-tick-label');
  });
});

label('[NII] BPT diagram',590,21,19.8,'top-row-title',{'text-anchor':'middle'});
label('[SII] BPT diagram',565.5,627,19.8,'bottom-row-title',{'text-anchor':'middle'});
label('[SIII]/[SII] ratio',1194,293.5,26.3,'top-colorbar-title',{'text-anchor':'middle',transform:'rotate(-90 1194 293.5)'});
label('[SIII/SII] ratio',1194,901,26.3,'bottom-colorbar-title',{'text-anchor':'middle',transform:'rotate(-90 1194 901)'});
</script>
</body></html>
